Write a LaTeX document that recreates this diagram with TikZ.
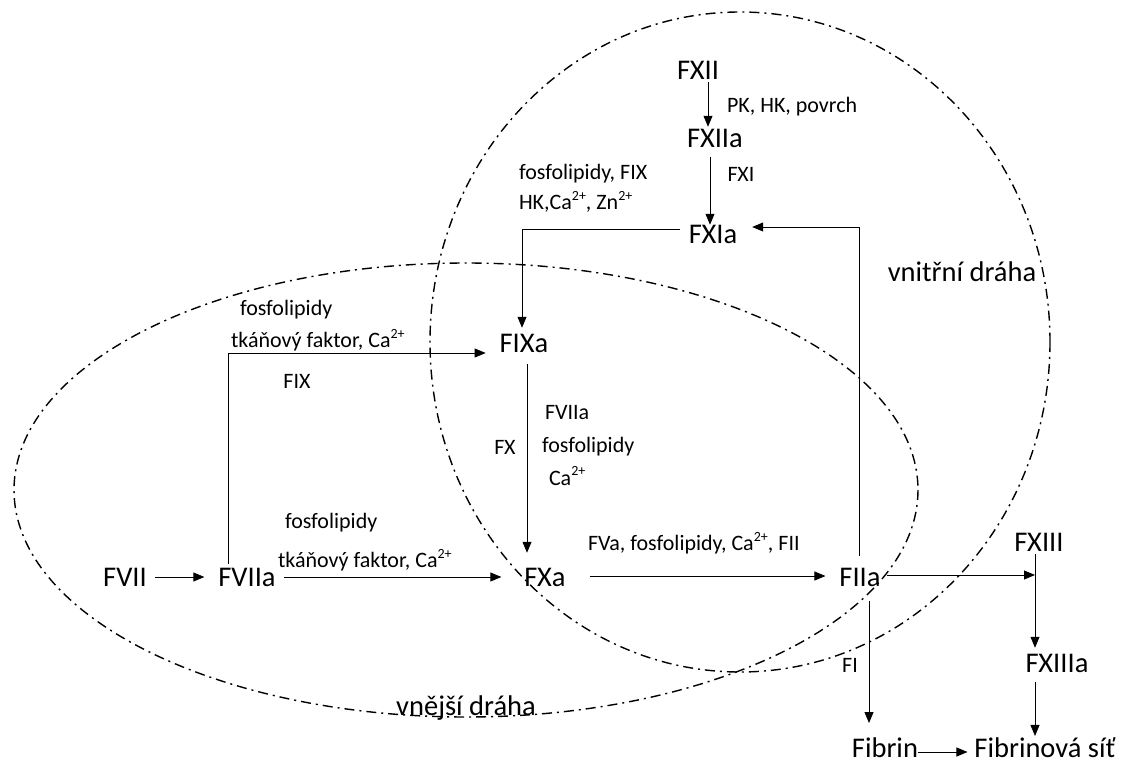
\documentclass[tikz,border=0pt]{standalone}
\usepackage{fontspec}
\setmainfont{Carlito}
\usetikzlibrary{arrows.meta}
\newcommand\supscr[1]{\raisebox{0.42em}{\fontsize{14}{14}\selectfont #1}}
\begin{document}
\begin{tikzpicture}[x=1pt,y=-1pt,
  big/.style={font=\fontsize{28.5}{33}\selectfont, inner sep=0pt, outer sep=0pt},
  small/.style={font=\fontsize{22}{26}\selectfont, inner sep=0pt, outer sep=0pt},
  arr/.style={-{Triangle[length=11pt,width=9pt]}, line width=0.8pt},
  region/.style={line width=1.4pt, dash pattern=on 10pt off 5pt on 2pt off 5pt}]
\useasboundingbox (0,0) rectangle (1124,767);

% pathway regions
\draw[region] (466,490) ellipse [x radius=452, y radius=227];
\draw[region] (740,342) ellipse [x radius=310, y radius=330];

% main factors
\node[big] (FXII) at (698,70) {FXII};
\node[big] (FXIIa) at (715,138) {FXIIa};
\node[big] (FXIa) at (713,234) {FXIa};
\node[big] (FIXa) at (524,343) {FIXa};
\node[big] (FVII) at (125,577) {FVII};
\node[big] (FVIIa) at (247,577) {FVIIa};
\node[big] (FXa) at (545,577) {FXa};
\node[big] (FIIa) at (860,577) {FIIa};
\node[big] (FXIII) at (1039,542) {FXIII};
\node[big] (FXIIIa) at (1057,663) {FXIIIa};
\node[big] (Fibrin) at (885,748) {Fibrin};
\node[big] (sit) at (1045,748) {Fibrinová síť};
\node[big] (vnitrni) at (962,272) {vnitřní dráha};
\node[big] (vnejsi) at (466,708) {vnější dráha};

% small labels
\node[small, anchor=west] (l1) at (727,107) {PK, HK, povrch};
\node[small] (l2) at (741,174) {FXI};
\node[small, anchor=west] (l3) at (519,174) {fosfolipidy, FIX};
\node[small, anchor=west] (l4) at (519,202) {HK,Ca\supscr{2+}, Zn\supscr{2+}};
\node[small, anchor=west] (l5) at (240,310) {fosfolipidy};
\node[small, anchor=west] (l6) at (231,340) {tkáňový faktor, Ca\supscr{2+}};
\node[small] (l7) at (297,381) {FIX};
\node[small, anchor=west] (l8) at (545,413) {FVIIa};
\node[small] (l9) at (505,447) {FX};
\node[small, anchor=west] (l10) at (542,447) {fosfolipidy};
\node[small, anchor=west] (l11) at (549,476) {Ca\supscr{2+}};
\node[small, anchor=west] (l12) at (285,523) {fosfolipidy};
\node[small, anchor=west] (l13) at (278,560) {tkáňový faktor, Ca\supscr{2+}};
\node[small, anchor=west] (l14) at (588,543) {FVa, fosfolipidy, Ca\supscr{2+}, FII};
\node[small] (l15) at (850,665) {FI};

% column of FXIII
\coordinate (c13) at (1035,560);

% connectors
\draw[arr, shorten <=3pt, shorten >=2pt] ([xshift=10pt]FXII.south) -- ([xshift=10pt]FXII.south |- FXIIa.north);
\draw[arr, shorten <=10pt, shorten >=0pt] ([xshift=-5pt]FXIIa.south) -- ([xshift=-5pt]FXIIa.south |- FXIa.north);
\draw[arr, shorten <=9pt, shorten >=6pt] ([yshift=5pt]FXIa.west) -| ([xshift=-2pt]FIXa.north);
\draw[arr, shorten <=4pt, shorten >=14pt] ([xshift=-19pt]FVIIa.north) |- ([yshift=-10pt]FIXa.west);
\draw[arr, shorten <=12pt, shorten >=15pt] ([xshift=3pt]FIXa.south) -- ([xshift=3pt]FIXa.south |- FXa.north);
\draw[arr, shorten <=8pt, shorten >=14pt] (FVII.east) -- (FVII.east -| FVIIa.west);
\draw[arr, shorten <=8pt, shorten >=23pt] (FVIIa.east) -- (FVIIa.east -| FXa.west);
\draw[arr, shorten <=24pt, shorten >=14pt] ([yshift=1pt]FXa.east) -- ([yshift=1pt]FXa.east -| FIIa.west);
\draw[arr, shorten <=12pt, shorten >=15pt] ([xshift=-1pt]FIIa.north) |- ([yshift=7pt]FXIa.east);
\draw[arr, shorten <=6pt, shorten >=0pt] ([yshift=2pt]FIIa.east) -- ([yshift=2pt]FIIa.east -| c13);
\draw[arr, shorten <=3pt, shorten >=6pt] (c13 |- FXIII.south) -- (c13 |- FXIIIa.north);
\draw[arr, shorten <=10pt, shorten >=2pt] (c13 |- FXIIIa.south) -- (c13 |- sit.north);
\draw[arr, shorten <=15pt, shorten >=15pt] ([xshift=9pt]FIIa.south) -- ([xshift=9pt]FIIa.south |- Fibrin.north);
\draw[arr, shorten <=0pt, shorten >=7pt] ([yshift=-4pt]Fibrin.east) -- ([yshift=-4pt]Fibrin.east -| sit.west);
\end{tikzpicture}
\end{document}
